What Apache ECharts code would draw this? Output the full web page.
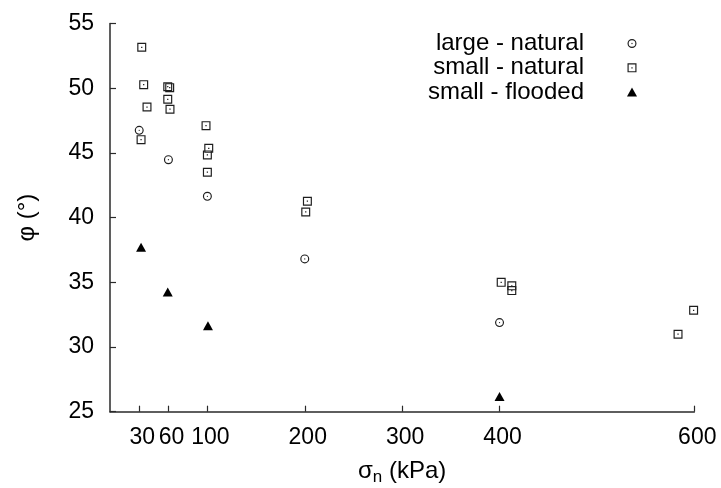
<!DOCTYPE html>
<html>
<head>
<meta charset="utf-8">
<script src="https://cdn.jsdelivr.net/npm/echarts@6/dist/echarts.min.js"></script>
<style>
  html, body { margin: 0; padding: 0; background: #fff; }
  #chart { width: 721px; height: 488px; }
</style>
</head>
<body>
<div id="chart"></div>
<script>
// Friction angle vs. normal stress for three test groups
const largeNaturalX = [30, 60, 100, 200, 400];
const largeNaturalY = [46.75, 44.48, 41.65, 36.81, 31.89];

const smallNaturalX = [32.6, 34.6, 38, 31.9, 59.3, 61.3, 59.3, 61.6, 98.6, 101.4, 100, 100, 202.7, 201, 401.7, 412.6, 412.6, 599.3, 583.3];
const smallNaturalY = [53.17, 50.28, 48.55, 46.03, 50.12, 50.05, 49.15, 48.38, 47.11, 45.36, 44.85, 43.51, 41.27, 40.44, 35.0, 34.73, 34.36, 32.84, 30.99];

const smallFloodedX = [31.9, 59.3, 100.6, 400];
const smallFloodedY = [37.71, 34.26, 31.65, 26.17];

const xTickValues = [30, 60, 100, 200, 300, 400, 600];
const seriesNames = ['large - natural', 'small - natural', 'small - flooded'];

const pair = (xs, ys) => xs.map((x, i) => [x, ys[i]]);

// open marks with a centre dot (ring + dot as filled sub-paths)
const ringDot = 'path://M0 -10A10 10 0 1 1 0 10A10 10 0 1 1 0 -10Z' +
  'M0 -7.4A7.4 7.4 0 1 0 0 7.4A7.4 7.4 0 1 0 0 -7.4Z' +
  'M0 -1.4A1.4 1.4 0 1 1 0 1.4A1.4 1.4 0 1 1 0 -1.4Z';
const squareDot = 'path://M-10 -10L10 -10L10 10L-10 10Z' +
  'M-7.4 -7.4L-7.4 7.4L7.4 7.4L7.4 -7.4Z' +
  'M-1.4 -1.4L1.4 -1.4L1.4 1.4L-1.4 1.4Z';
const triangle = 'path://M0 -10L10 8L-10 8Z';

const ink = '#1e1e1e';
const font = 'Liberation Sans, Arial, sans-serif';

const chart = echarts.init(document.getElementById('chart'), null, { renderer: 'canvas' });
chart.setOption({
  animation: false,
  backgroundColor: '#fff',
  textStyle: { fontFamily: font, color: '#000' },
  grid: { left: 110, right: 26.7, top: 23.6, bottom: 76.3, outerBoundsMode: 'none', containLabel: false },
  legend: {
    orient: 'vertical',
    align: 'right',
    right: 79,
    top: 26.5,
    itemWidth: 86,
    itemHeight: 9,
    itemGap: 0.3,
    textStyle: { fontSize: 24, lineHeight: 24, color: '#000', fontFamily: font },
    data: [
      { name: seriesNames[0], icon: ringDot },
      { name: seriesNames[1], icon: squareDot },
      { name: seriesNames[2], icon: triangle }
    ]
  },
  xAxis: {
    type: 'value',
    min: 0,
    max: 600,
    interval: 10,
    splitLine: { show: false },
    axisLine: { lineStyle: { color: '#2a2a2a', width: 1.5 } },
    axisTick: { inside: true, length: 6, customValues: xTickValues, lineStyle: { color: '#2a2a2a', width: 1.2 } },
    axisLabel: { customValues: xTickValues, fontSize: 23, color: '#000', margin: 14, padding: [0, 0, 0, 6], fontFamily: font },
    name: '{s|σ}{n|n}{s| (kPa)}',
    nameLocation: 'middle',
    nameGap: 45,
    nameTextStyle: {
      rich: {
        s: { fontSize: 24, fontFamily: font, color: '#000' },
        n: { fontSize: 17, fontFamily: font, color: '#000', padding: [12, 0, 0, 0] }
      }
    }
  },
  yAxis: {
    type: 'value',
    min: 25,
    max: 55,
    interval: 5,
    splitLine: { show: false },
    axisLine: { lineStyle: { color: '#2a2a2a', width: 1.5 } },
    axisTick: { inside: true, length: 6, lineStyle: { color: '#2a2a2a', width: 1.2 } },
    axisLabel: { fontSize: 23, color: '#000', margin: 16, fontFamily: font },
    name: 'φ (°)',
    nameLocation: 'middle',
    nameGap: 71,
    nameTextStyle: { fontSize: 24, color: '#000', fontFamily: font }
  },
  series: [
    {
      name: seriesNames[0], type: 'scatter', symbol: ringDot, symbolSize: 9,
      itemStyle: { color: ink, opacity: 1 }, data: pair(largeNaturalX, largeNaturalY)
    },
    {
      name: seriesNames[1], type: 'scatter', symbol: squareDot, symbolSize: 9,
      itemStyle: { color: ink, opacity: 1 }, data: pair(smallNaturalX, smallNaturalY)
    },
    {
      name: seriesNames[2], type: 'scatter', symbol: triangle, symbolSize: [10, 9],
      itemStyle: { color: '#000', opacity: 1 }, data: pair(smallFloodedX, smallFloodedY)
    }
  ]
});
</script>
</body>
</html>
